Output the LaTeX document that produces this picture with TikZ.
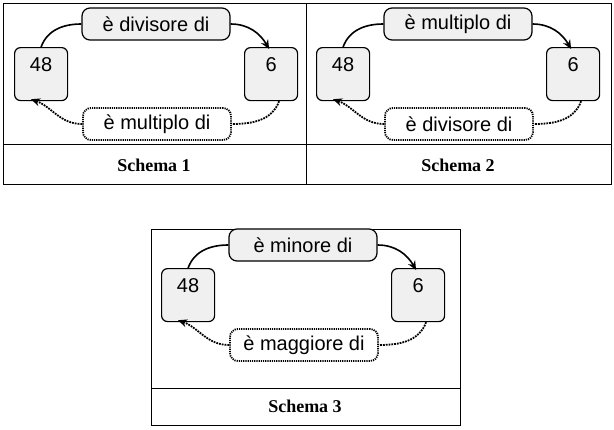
\documentclass[tikz,border=0pt]{standalone}
\usepackage{fontspec}
\setmainfont{Liberation Serif}
\newfontfamily\arial{Liberation Sans}
\usetikzlibrary{arrows.meta}
\begin{document}
\begin{tikzpicture}[x=1pt,y=-1pt,
  numbox/.style={draw,line width=1.2pt,fill=gray!12,rounded corners=6pt,minimum width=53pt,minimum height=53pt,anchor=north west,font=\arial\fontsize{20}{22}\selectfont,text height=14pt,text depth=20pt,inner sep=0pt,align=center,text width=44pt},
  lab/.style={draw,line width=1.2pt,fill=gray!12,rounded corners=8pt,minimum width=148pt,minimum height=32pt,font=\arial\fontsize{20}{22}\selectfont},
  dlab/.style={lab,fill=white,densely dotted,line width=1.8pt},
  arr/.style={line width=1.6pt,-{Stealth[length=9pt,width=8pt]}},
  ln/.style={line width=1.6pt},
  dln/.style={line width=1.8pt,densely dotted},
  darr/.style={dln,-{Stealth[length=9pt,width=8pt]}},
  tbl/.style={line width=0.8pt},
  sch/.style={font=\bfseries\fontsize{18}{20}\selectfont}]
\useasboundingbox (0,0) rectangle (614,429);
\draw[tbl] (3,3) rectangle (611,184);
\draw[tbl] (306,3) -- (306,184);
\draw[tbl] (3,144) -- (611,144);
\draw[tbl] (151,229) rectangle (460,425);
\draw[tbl] (151,388) -- (460,388);
\node[sch] (s1) at (154,165) {Schema 1};
\node[sch] (s2) at (458,165) {Schema 2};
\node[sch] (s3) at (305,406) {Schema 3};
\newcommand{\panel}[6]{%
 \begin{scope}[shift={(#1,#2)}]
  \node[numbox] (a#6) at (14,47) {48};
  \node[numbox] (b#6) at (244,47) {6};
  \node[lab] (t#6) at (156,24) {#3};
  \node[dlab] (u#6) at (157,124) {#4};
  \draw[ln] (a#6.north) to[out=70,in=180] (t#6.west);
  \draw[arr] (t#6.east) to[out=0,in=120] ([xshift=-2pt,yshift=-2pt]b#6.north);
  \draw[dln] ([xshift=8pt]b#6.south) to[out=-110,in=0] (u#6.east);
  \draw[darr] (u#6.west) to[out=180,in=-20] ([xshift=-10pt,yshift=2pt]a#6.south);
 \end{scope}}
\panel{0}{0}{è divisore di}{è multiplo di}{}{1}
\panel{302}{0}{è multiplo di}{è divisore di}{}{2}
\panel{147}{221}{è minore di}{è maggiore di}{}{3}
\end{tikzpicture}
\end{document}
